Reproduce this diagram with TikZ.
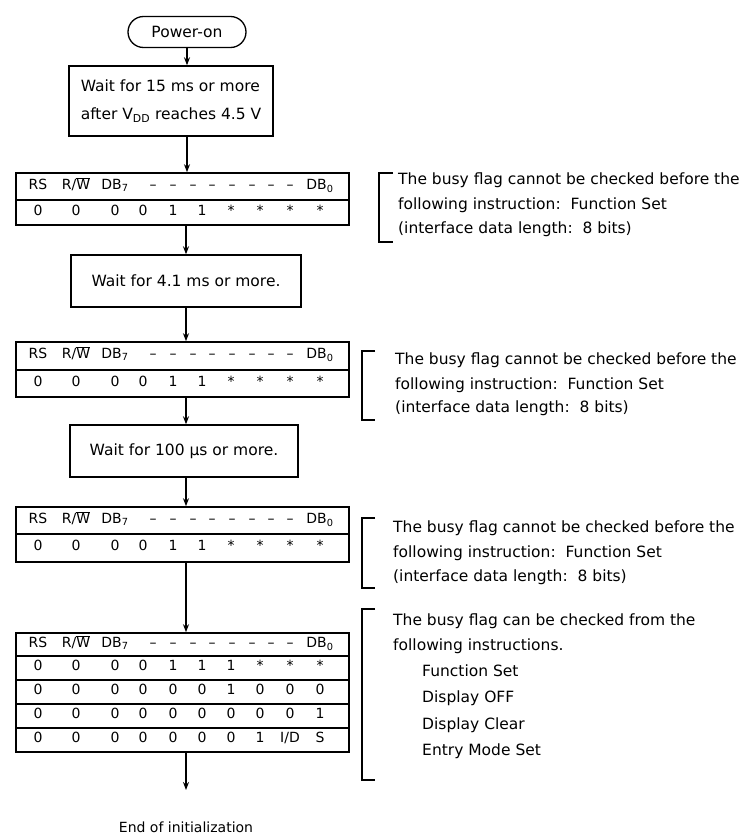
\documentclass[tikz,border=0pt]{standalone}
\usepackage{fontspec}
\setmainfont{DejaVu Sans}
\usetikzlibrary{shapes.misc,arrows.meta}
\newcommand\colx[1]{\pgfmathsetmacro\cx{{38,76,115,143,173,202,231,260,290,320}[#1]}}
\newcommand\datarow[3]{%
  \foreach \v [count=\i from 0] in {#3} {\colx{\i}\node[cell] (#2-\i) at (\cx,#1) {\v};}}
\newcommand\hdrrow[2]{%
  \node[cell] (#2-rs) at (38,#1) {RS};
  \node[cell] (#2-rw) at (76,#1) {R/$\overline{\hbox{W}}$};
  \node[cell] (#2-d7) at (115,#1) {DB\textsubscript{7}};
  \foreach \dx [count=\k] in {153,173,193,212,232,252,271,290} {\node[cell] (#2-dash\k) at (\dx,#1) {–};}
  \node[cell] (#2-d0) at (320,#1) {DB\textsubscript{0}};}
\begin{document}
\begin{tikzpicture}[x=1pt,y=-1pt,
  every node/.style={font=\fontsize{15.5}{19}\selectfont, inner sep=0pt},
  box/.style={draw, line width=1.4pt, rectangle},
  tbl/.style={draw, line width=1.6pt, rectangle, minimum width=333pt},
  arr/.style={line width=1.3pt, -{Stealth[length=8pt,width=6pt]}},
  div/.style={line width=1.2pt},
  brk/.style={line width=1.4pt},
  cell/.style={anchor=mid, font=\fontsize{14}{17}\selectfont},
  note/.style={anchor=mid west},
]
\fill[white] (0,0) rectangle (750,838);
\useasboundingbox (0,0) rectangle (750,838);

% flow nodes
\node[draw, rounded rectangle, line width=1.3pt, minimum width=118pt, minimum height=31pt] (pon) at (187,32) {Power-on};
\node[box, minimum width=204pt, minimum height=70pt, align=left] (w1) at (171,101)
  {Wait for 15 ms or more\\[9pt]after V\textsubscript{DD} reaches 4.5 V};
\node[tbl, minimum height=52pt] (t1) at (182.5,199) {};
\node[box, minimum width=230pt, minimum height=52pt] (w2) at (186,281) {Wait for 4.1 ms or more.};
\node[tbl, minimum height=55pt] (t2) at (182.5,369.5) {};
\node[box, minimum width=228pt, minimum height=52pt] (w3) at (184,451) {Wait for 100 µs or more.};
\node[tbl, minimum height=55pt] (t3) at (182.5,534.5) {};
\node[tbl, minimum height=119pt] (t4) at (182.5,692.5) {};
\node[font=\fontsize{14}{17}\selectfont] (end) at (186,827) {End of initialization};
\coordinate (endarr) at (186,790);

% table contents
\draw[div] (t1.west |- 0,200) -- (t1.east |- 0,200);
\hdrrow{187}{h1}
\datarow{213}{r1}{0,0,0,0,1,1,*,*,*,*}

\draw[div] (t2.west |- 0,370) -- (t2.east |- 0,370);
\hdrrow{356}{h2}
\datarow{384}{r2}{0,0,0,0,1,1,*,*,*,*}

\draw[div] (t3.west |- 0,534) -- (t3.east |- 0,534);
\hdrrow{521}{h3}
\datarow{548}{r3}{0,0,0,0,1,1,*,*,*,*}

\foreach \yy in {656,680,704,728} {\draw[div] (t4.west |- 0,\yy) -- (t4.east |- 0,\yy);}
\hdrrow{645}{h4}
\datarow{668}{ra}{0,0,0,0,1,1,1,*,*,*}
\datarow{692}{rb}{0,0,0,0,0,0,1,0,0,0}
\datarow{716}{rc}{0,0,0,0,0,0,0,0,0,1}
\datarow{740}{rd}{0,0,0,0,0,0,0,1,I/D,S}

% connectors
\draw[arr] (pon.south) -- (pon.south |- w1.north);
\draw[arr] (pon.south |- w1.south) -- (pon.south |- t1.north);
\draw[arr] (w2.north |- t1.south) -- (w2.north);
\draw[arr] (w2.south) -- (w2.south |- t2.north);
\draw[arr] (w2.south |- t2.south) -- (w2.south |- w3.north);
\draw[arr] (w2.south |- w3.south) -- (w2.south |- t3.north);
\draw[arr] (w2.south |- t3.south) -- (w2.south |- t4.north);
\draw[arr] (w2.south |- t4.south) -- (endarr);

% brackets and notes
\draw[brk] (393,173) -- (379,173) -- (379,242) -- (393,242);
\node[note] (n1a) at (398,182) {The busy flag cannot be checked before the};
\node[note] (n1b) at (398,207) {following instruction:\ \ Function Set};
\node[note] (n1c) at (398,231) {(interface data length:\ \ 8 bits)};

\draw[brk] (375,351) -- (362,351) -- (362,420) -- (375,420);
\node[note] (n2a) at (395,362) {The busy flag cannot be checked before the};
\node[note] (n2b) at (395,387) {following instruction:\ \ Function Set};
\node[note] (n2c) at (395,410) {(interface data length:\ \ 8 bits)};

\draw[brk] (375,518) -- (362,518) -- (362,588) -- (375,588);
\node[note] (n3a) at (393,530) {The busy flag cannot be checked before the};
\node[note] (n3b) at (393,555) {following instruction:\ \ Function Set};
\node[note] (n3c) at (393,579) {(interface data length:\ \ 8 bits)};

\draw[brk] (375,609) -- (362,609) -- (362,780) -- (375,780);
\node[note] (n4a) at (393,623) {The busy flag can be checked from the};
\node[note] (n4b) at (393,648) {following instructions.};
\node[note] (n4c) at (422,674) {Function Set};
\node[note] (n4d) at (422,700) {Display OFF};
\node[note] (n4e) at (422,727) {Display Clear};
\node[note] (n4f) at (422,753) {Entry Mode Set};
\end{tikzpicture}
\end{document}
